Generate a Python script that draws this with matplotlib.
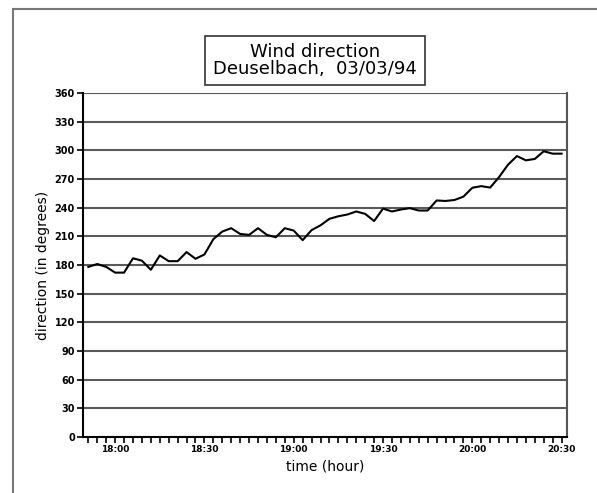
import numpy as np
import matplotlib
matplotlib.use("Agg")
import matplotlib.pyplot as plt
from matplotlib.lines import Line2D
from matplotlib.patches import Rectangle

# minutes after 18:00, one reading every 3 minutes (17:51 .. 20:30)
minutes = np.arange(-9, 151, 3)
direction = [178, 181, 178, 172, 172, 187, 184.5, 175, 190, 184,
             184, 193.5, 186.5, 191, 207, 215, 218.5, 212.5, 211.5, 218.5,
             211.5, 209, 218.5, 216, 206, 216.5, 221.5, 228.3, 231, 232.8,
             236, 233.5, 226, 239, 236, 238, 239.5, 237, 237, 247.5,
             247, 248, 251.5, 260.8, 262.5, 261, 272, 285, 294, 289.5,
             291, 299, 296.5, 296.5]

hour_ticks = [0, 30, 60, 90, 120, 150]
hour_labels = ["18:00", "18:30", "19:00", "19:30", "20:00", "20:30"]
deg_ticks = list(range(0, 361, 30))

fig = plt.figure(figsize=(5.97, 4.93), dpi=100)
ax = fig.add_axes([0.1395, 0.1136, 0.8102, 0.6978])

# horizontal grid lines
for d in deg_ticks[1:]:
    ax.axhline(d, color="#5a5a5a", lw=1.5, zorder=1)

ax.plot(minutes, direction, color="black", lw=1.5, zorder=3)

ax.set_xlim(-10.7, 151.8)
ax.set_ylim(0, 360)
ax.set_yticks(deg_ticks)
ax.set_yticklabels([str(d) for d in deg_ticks], fontsize=7, fontweight="bold")
ax.set_xticks(hour_ticks)
ax.set_xticklabels(hour_labels, fontsize=6.5, fontweight="bold")
ax.set_xticks(minutes, minor=True)
ax.tick_params(axis="both", which="both", direction="out", length=4, width=1.2, pad=2)

ax.spines["top"].set_visible(False)
ax.spines["left"].set_linewidth(1.5)
ax.spines["bottom"].set_linewidth(1.5)
ax.spines["right"].set_linewidth(1.5)
ax.spines["right"].set_color("#555555")

ax.set_xlabel("time (hour)", fontsize=10, labelpad=4)
ax.set_ylabel("direction (in degrees)", fontsize=10, labelpad=3)

# title box
fig.add_artist(Rectangle((205 / 597, 1 - 85 / 493), 220 / 597, 49 / 493,
                         transform=fig.transFigure, fill=False,
                         edgecolor="#333333", lw=1.2))
fig.text(315 / 597, 1 - 60.5 / 493, "Wind direction\nDeuselbach,  03/03/94",
         ha="center", va="center", fontsize=13, linespacing=0.95)

# outer frame (left and top edges)
fig.add_artist(Line2D([13 / 597, 13 / 597], [0, 1 - 9 / 493],
                      transform=fig.transFigure, color="#777777", lw=1.5))
fig.add_artist(Line2D([13 / 597, 1], [1 - 9 / 493, 1 - 9 / 493],
                      transform=fig.transFigure, color="#777777", lw=1.5))

fig.savefig("out.png", dpi=100)
